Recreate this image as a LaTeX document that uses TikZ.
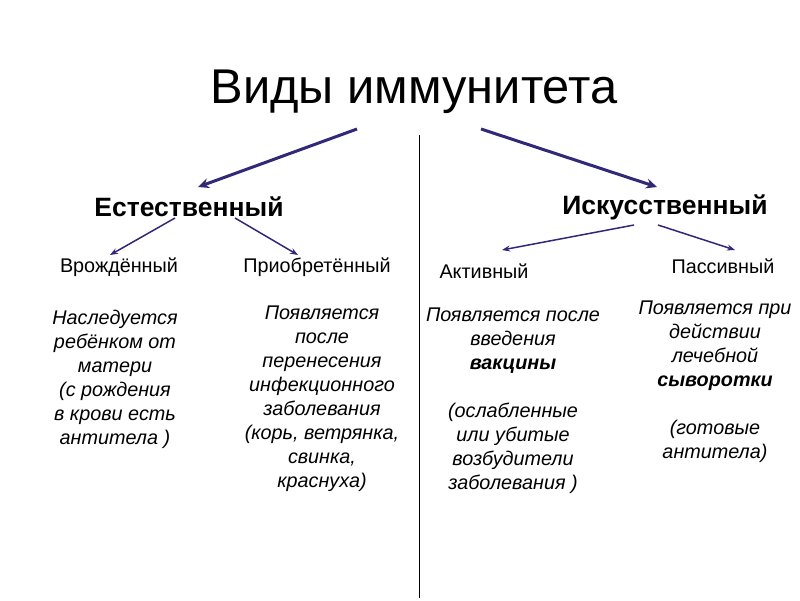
\documentclass[tikz,border=0pt]{standalone}
\usepackage{fontspec}
\setmainfont{Liberation Sans}
\usetikzlibrary{arrows.meta}
\definecolor{arr}{RGB}{50,40,120}
\begin{document}
\begin{tikzpicture}[x=1pt,y=-1pt,
  title/.style={font=\fontsize{48.8}{52}\selectfont},
  head/.style={font=\fontsize{26.5}{30}\selectfont\bfseries},
  sub/.style={font=\fontsize{19.8}{23}\selectfont},
  desc/.style={font=\fontsize{19.8}{24}\selectfont\itshape,align=center,anchor=north,inner sep=0pt},
  bigarr/.style={draw=arr,line width=3pt,-{Stealth[length=11pt,width=10pt]}},
  smallarr/.style={draw=arr,line width=1.5pt,-{Stealth[length=8pt,width=6pt]}}]
\useasboundingbox (0,0) rectangle (800,600);
\fill[white] (0,0) rectangle (800,600);
\node[title] (t) at (414,92) {Виды иммунитета};
\node[head] (nat) at (189,207) {Естественный};
\node[head] (art) at (665,207) {Искусственный};
\node[sub] (vr) at (119,267) {Врождённый};
\node[sub] (pr) at (317,267) {Приобретённый};
\node[sub] (ak) at (484,271) {Активный};
\node[sub] (pa) at (723,266) {Пассивный};
\node[desc] (d1) at (115,310) {Наследуется\\ребёнком от\\матери\\(с рождения\\в крови есть\\антитела )};
\node[desc] (d2) at (322,306) {Появляется\\после\\перенесения\\инфекционного\\заболевания\\(корь, ветрянка,\\свинка,\\краснуха)};
\node[desc] (d3) at (513,308) {Появляется после\\введения\\{\bfseries вакцины}\\[24pt](ослабленные\\или убитые\\возбудители\\заболевания )};
\node[desc] (d4) at (715,301) {Появляется при\\действии\\лечебной\\{\bfseries сыворотки}\\[24pt](готовые\\антитела)};
\coordinate (vtop) at (419,135);
\coordinate (vbot) at (419,598);
\draw[line width=1pt] (vtop) -- (vbot);
\coordinate (a1s) at (357,129); \coordinate (a1e) at (198,187);
\coordinate (a2s) at (481,129); \coordinate (a2e) at (657,187);
\draw[bigarr] (a1s) -- (a1e);
\draw[bigarr] (a2s) -- (a2e);
\coordinate (b1s) at (175,218); \coordinate (b1e) at (110,255);
\coordinate (b2s) at (235,218); \coordinate (b2e) at (298,255);
\coordinate (b3s) at (634,225); \coordinate (b3e) at (502,250);
\coordinate (b4s) at (658,225); \coordinate (b4e) at (735,250);
\draw[smallarr] (b1s) -- (b1e);
\draw[smallarr] (b2s) -- (b2e);
\draw[smallarr] (b3s) -- (b3e);
\draw[smallarr] (b4s) -- (b4e);
\end{tikzpicture}
\end{document}
